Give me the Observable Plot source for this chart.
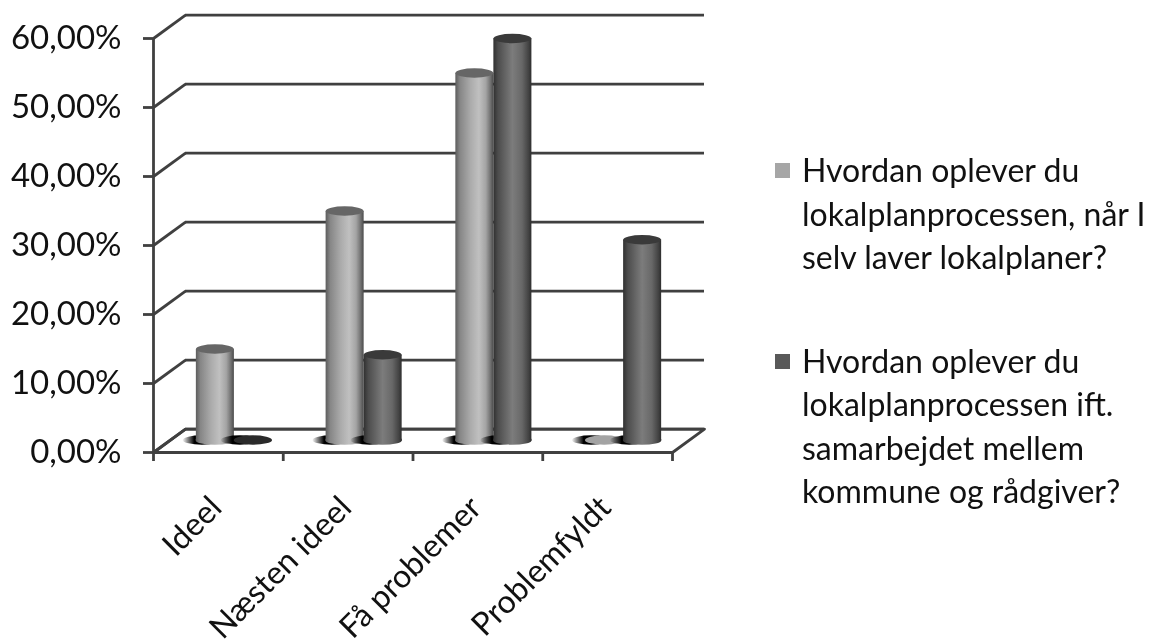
<!DOCTYPE html>
<html>
<head>
<meta charset="utf-8">
<script src="https://cdn.jsdelivr.net/npm/d3@7"></script>
<script src="https://cdn.jsdelivr.net/npm/@observablehq/plot@0.6"></script>
<style>
html,body{margin:0;padding:0;background:#fff;overflow:hidden;}
#wrap{position:relative;width:1157px;height:641px;font-family:Lato,sans-serif;}
#chart svg{display:block;filter:blur(0.6px);}
#legend{position:absolute;left:775px;top:148px;color:#111;filter:blur(0.4px);}
.entry{position:relative;padding-left:27px;font-size:32px;line-height:43.5px;white-space:nowrap;}
.sw{position:absolute;left:0;top:15px;width:15px;height:15px;}
</style>
</head>
<body>
<div id="wrap"><div id="chart"></div><div id="legend"></div></div>
<script>
const categories = ["Ideel", "Næsten ideel", "Få problemer", "Problemfyldt"];
const series1Values = [13.33, 33.33, 53.33, 0];
const series2Values = [0, 12.5, 58.33, 29.17];
const yTicks = [0, 10, 20, 30, 40, 50, 60];
const xTicks = [0, 1, 2, 3, 4];
const legendLines = [
  ["Hvordan oplever du", "lokalplanprocessen, når I", "selv laver lokalplaner?"],
  ["Hvordan oplever du", "lokalplanprocessen ift.", "samarbejdet mellem", "kommune og rådgiver?"]
];
const legendColors = ["#a6a6a6", "#595959"];

// 3D look: the back wall is offset from the front plane, in data units
const depthX = 0.2466, depthY = 3.4;
const barW = 0.293, capH = 0.68;
const ink = "#404040";

const s1 = series1Values.map((v, i) => ({v, x1: i + 0.5 - barW, x2: i + 0.5}));
const s2 = series2Values.map((v, i) => ({v, x1: i + 0.5, x2: i + 0.5 + barW}));

const defs = () => {
  const ns = "http://www.w3.org/2000/svg";
  const d = document.createElementNS(ns, "defs");
  const grad = (id, stops, tag = "linearGradient") => {
    const g = document.createElementNS(ns, tag);
    g.setAttribute("id", id);
    for (const [o, c, a] of stops) {
      const s = document.createElementNS(ns, "stop");
      s.setAttribute("offset", o); s.setAttribute("stop-color", c);
      if (a !== undefined) s.setAttribute("stop-opacity", a);
      g.appendChild(s);
    }
    d.appendChild(g);
  };
  grad("lightCyl", [[0, "#5c5c5c"], [0.12, "#868686"], [0.4, "#ababab"], [0.62, "#c0c0c0"], [0.8, "#a4a4a4"], [0.93, "#6e6e6e"], [1, "#4a4a4a"]]);
  grad("darkCyl", [[0, "#303030"], [0.12, "#4c4c4c"], [0.5, "#7c7c7c"], [0.75, "#686868"], [0.92, "#444444"], [1, "#2e2e2e"]]);
  grad("shade", [[0, "#000", 0.05], [0.3, "#000", 1], [1, "#000", 1]]);
  return d;
};

const cyl = {dx: 16, dy: -11};
const bars = (data, gradId, capColor) => {
  const up = data.filter(d => d.v > 0);
  return [
    // ground shadow
    Plot.rect(data, {x1: "x1", x2: "x2", y1: -capH, y2: capH, rx: 19, ry: 4.5, fill: "url(#shade)", dx: 3, dy: -12}),
    // bottom rim
    Plot.rect(up, {x1: "x1", x2: "x2", y1: -capH, y2: capH, rx: 19, ry: 4, fill: `url(#${gradId})`, dx: 16, dy: -12}),
    // body
    Plot.rect(up, {x1: "x1", x2: "x2", y1: 0, y2: "v", fill: `url(#${gradId})`, ...cyl}),
    // top cap
    Plot.rect(up, {x1: "x1", x2: "x2", y1: d => d.v - capH, y2: d => d.v + capH, rx: 19, ry: 5, fill: capColor, ...cyl})
  ];
};
const flat = (data, color) => Plot.rect(data.filter(d => d.v === 0), {
  x1: "x1", x2: "x2", y1: -capH, y2: capH, rx: 19, ry: 4.5, fill: color, dx: 16, dy: -12
});

const chart = Plot.plot({
  width: 745,
  height: 641,
  marginLeft: 153,
  marginRight: 73,
  marginTop: 38,
  marginBottom: 189,
  x: {domain: [0, 4], axis: null},
  y: {domain: [0, 60], axis: null},
  style: {fontFamily: "Lato, sans-serif", background: "transparent", overflow: "visible"},
  marks: [
    defs,
    // floor
    Plot.line([[0, 0], [4, 0], [4 + depthX, depthY], [depthX, depthY], [0, 0]], {stroke: ink, strokeWidth: 2.8, fill: "#fff"}),
    // back wall gridlines
    Plot.ruleY(yTicks, {y: d => d + depthY, x1: depthX, x2: 4 + depthX, stroke: ink, strokeWidth: 2.8}),
    // side wall gridlines
    Plot.link(yTicks, {x1: 0, y1: d => d, x2: depthX, y2: d => d + depthY, stroke: ink, strokeWidth: 2.8}),
    // axes
    Plot.ruleX([0], {y1: 0, y2: 60, stroke: ink, strokeWidth: 2.8}),
    Plot.axisY({
      ticks: yTicks, tickFormat: d => `${d},00%`, tickSize: 10, tickPadding: 22,
      fontSize: 33, stroke: ink, strokeWidth: 2.8, color: "#111", label: null
    }),
    Plot.axisX({
      ticks: xTicks, tickFormat: () => "", tickSize: 9, stroke: ink, strokeWidth: 2.8, label: null
    }),
    // cylinders
    ...bars(s1, "lightCyl", "#666666"),
    flat(s1, "#a3a3a3"),
    ...bars(s2, "darkCyl", "#3a3a3a"),
    flat(s2, "#2a2a2a"),
    // category labels
    Plot.text(categories, {
      x: (d, i) => i + 0.5, y: 0, text: d => d, rotate: -45, textAnchor: "end", lineAnchor: "middle",
      dx: -2, dy: 50, fontSize: 32, fill: "#111"
    })
  ]
});
document.getElementById("chart").appendChild(chart);

const legend = d3.select("#legend");
legendLines.forEach((lines, i) => {
  const e = legend.append("div").attr("class", "entry");
  e.style("margin-bottom", i ? "0" : "60px");
  e.append("div").attr("class", "sw").style("background", legendColors[i]);
  lines.forEach(l => e.append("div").text(l));
});
</script>
</body>
</html>
